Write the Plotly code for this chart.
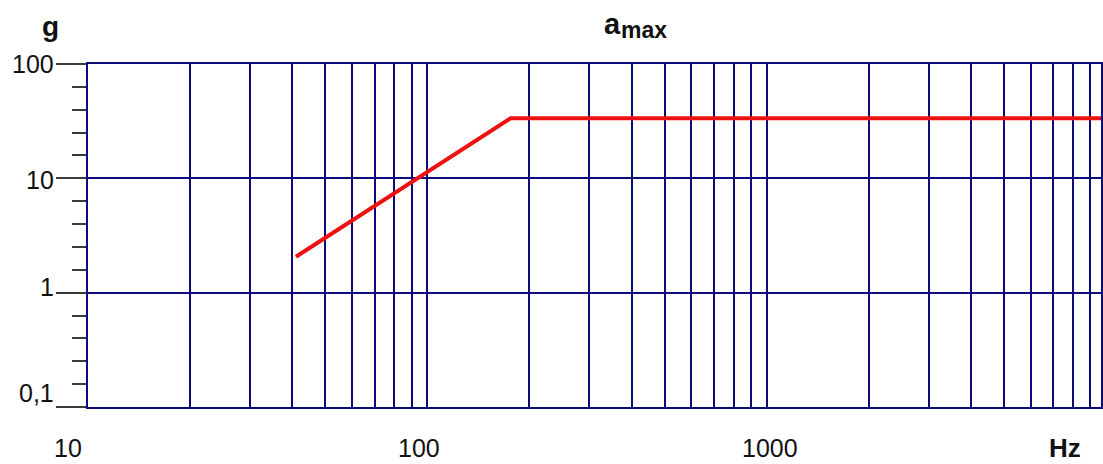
import math
import plotly.graph_objects as go

# ---- data ----
freq_hz = [41, 176, 9700]
accel_g = [2.06, 33.5, 33.5]

x_grid_vals = [20, 30, 40, 50, 60, 70, 80, 90, 100,
               200, 300, 400, 500, 600, 700, 800, 900, 1000,
               2000, 3000, 4000, 5000, 6000, 7000, 8000, 9000]
x_label_vals = [10, 100, 1000]
x_label_text = ["10", "100", "1000"]
y_major_vals = [0.1, 1, 10, 100]
y_major_text = ["0,1", "1", "10", "100"]
y_minor_vals = [10 ** (k + j / 5) for k in (-1, 0, 1) for j in (1, 2, 3, 4)]

NAVY = "#0c0c78"
TICK = "#3a3a3a"
FONT = "Arial, Liberation Sans, sans-serif"

W, H = 1103, 464
L, T, B = 88, 64, 57
PW = W - L
PH = H - T - B

fig = go.Figure()
fig.add_trace(go.Scatter(
    x=freq_hz, y=accel_g, mode="lines",
    line=dict(color="#ee1111", width=4),
    hoverinfo="skip", showlegend=False,
))

fig.update_layout(
    width=W, height=H,
    margin=dict(l=L, r=0, t=T, b=B, pad=0),
    paper_bgcolor="white", plot_bgcolor="white",
    showlegend=False,
    font=dict(family=FONT, color="#111111"),
)

fig.update_xaxes(
    type="log", range=[1, 1 + PW / 340.0],
    tickvals=x_grid_vals, showticklabels=False, ticks="",
    showgrid=True, gridcolor=NAVY, gridwidth=2,
    showline=True, linecolor=NAVY, linewidth=2, mirror=True,
    zeroline=False,
)
fig.update_yaxes(
    type="log", range=[-1, 2],
    tickvals=y_major_vals, showticklabels=False,
    ticks="outside", ticklen=30, tickwidth=1.5, tickcolor=TICK,
    minor=dict(tickvals=y_minor_vals, ticks="outside", ticklen=14,
               tickwidth=1.5, tickcolor=TICK, showgrid=False),
    showgrid=True, gridcolor=NAVY, gridwidth=2,
    showline=True, linecolor=NAVY, linewidth=2, mirror=True,
    zeroline=False,
)

anns = []
# x labels
x_shifts = [-20, -8, 3]
for v, t, s in zip(x_label_vals, x_label_text, x_shifts):
    anns.append(dict(x=math.log10(v), xref="x", y=0, yref="paper",
                     text=t, showarrow=False, xanchor="center", yanchor="middle",
                     xshift=s, yshift=-41, font=dict(size=25, family=FONT, color="#111")))
# y labels
y_shifts = [14, 6, -2, 0]
for v, t, s in zip(y_major_vals, y_major_text, y_shifts):
    anns.append(dict(x=0, xref="paper", y=math.log10(v), yref="y",
                     text=t, showarrow=False, xanchor="right", yanchor="middle",
                     xshift=-32, yshift=s, font=dict(size=25, family=FONT, color="#111")))


def px(text, cx, cy, size, bold=True, anchor="center"):
    return dict(x=(cx - L) / PW, xref="paper", y=(H - B - cy) / PH, yref="paper",
                text=("<b>%s</b>" % text) if bold else text, showarrow=False,
                xanchor=anchor, yanchor="middle",
                font=dict(size=size, family=FONT, color="#111"))


anns.append(px("g", 50, 27, 28))
anns.append(px("a", 603, 24, 29, anchor="left"))
anns.append(px("max", 620, 30, 23, anchor="left"))
anns.append(px("Hz", 1067, 448, 26))
fig.update_layout(annotations=anns)

fig.write_html(
    "out.html",
    config={"displayModeBar": False},
    post_script="document.body.style.margin='0';document.body.style.padding='0';"
                "document.body.style.overflow='hidden';"
                "document.documentElement.style.overflow='hidden';",
)
